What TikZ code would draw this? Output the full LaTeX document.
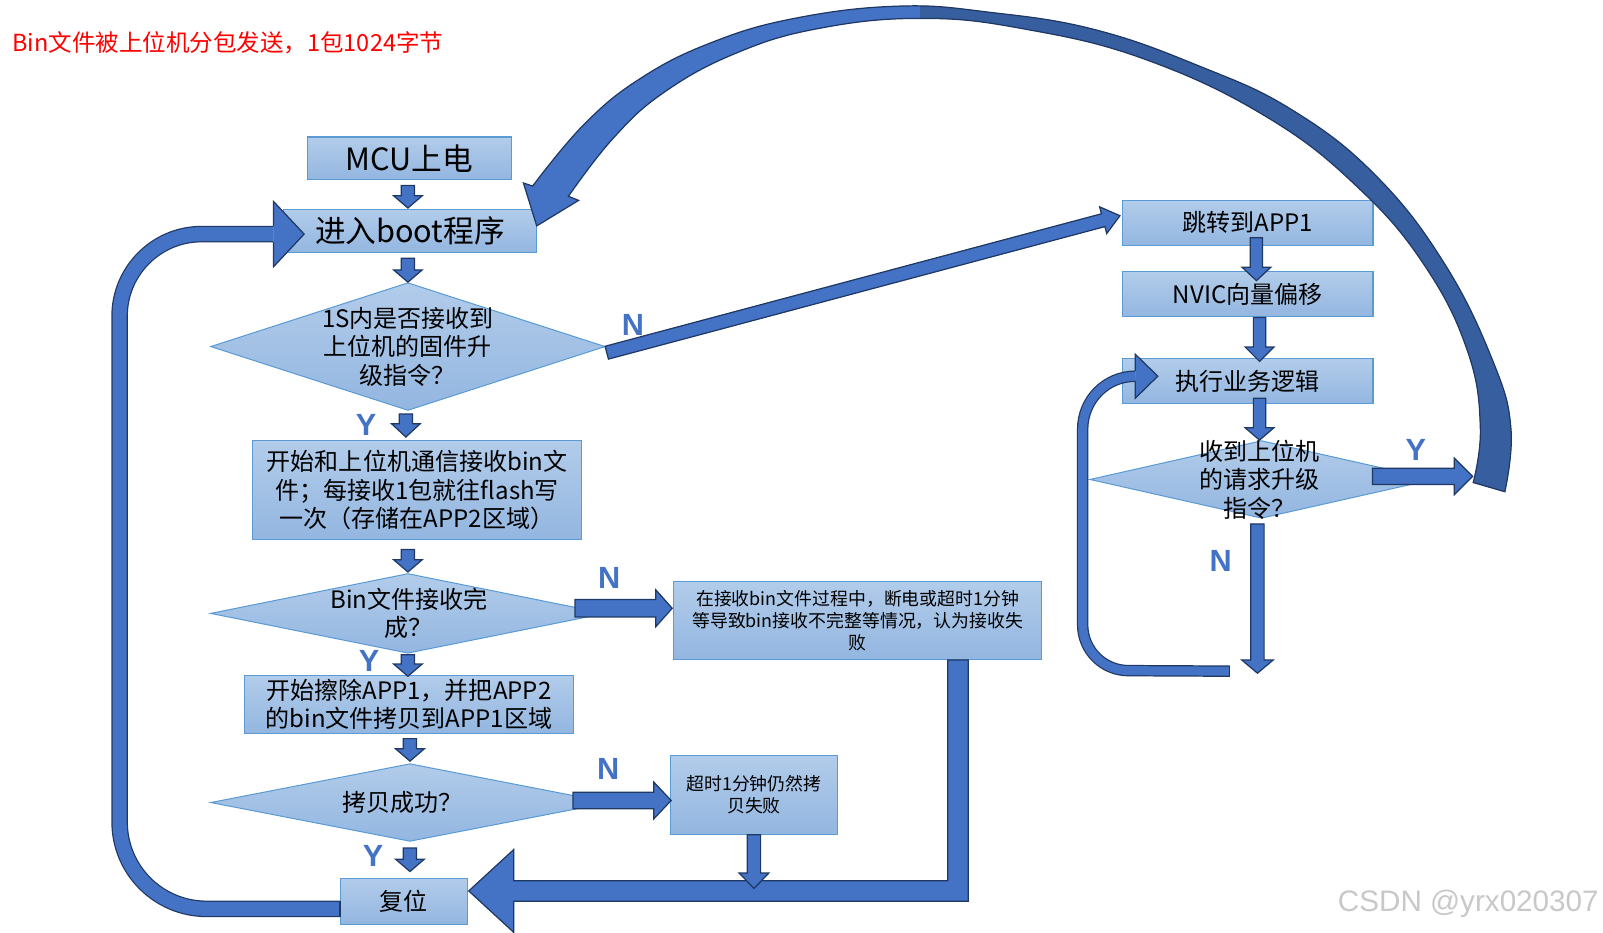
\documentclass[tikz,border=0pt]{standalone}
\usepackage{fontspec}
\setmainfont{Noto Sans CJK SC}
\newfontfamily\latinfont{Liberation Sans}
\usetikzlibrary{calc,shapes.geometric}

\definecolor{boxtop}{HTML}{B2CCEA}
\definecolor{boxbot}{HTML}{93B6E0}
\definecolor{boxline}{HTML}{5B9BD5}
\definecolor{arrowfill}{HTML}{4472C4}
\definecolor{arrowback}{HTML}{375F9F}
\definecolor{arrowline}{HTML}{1F3864}
\definecolor{tagblue}{HTML}{4472C4}
\definecolor{notered}{HTML}{FF0000}
\definecolor{markgray}{HTML}{C8C8C8}

\newcommand\fsBig{\fontsize{30}{34}\selectfont}
\newcommand\fsMid{\fontsize{23.5}{28}\selectfont}
\newcommand\fsSmall{\fontsize{17.5}{21.5}\selectfont}

\tikzset{
  box/.style={draw=boxline, line width=1pt, top color=boxtop, bottom color=boxbot,
    inner sep=0pt, align=center, text=black, font=\fsMid},
  decision/.style={diamond, draw=boxline, line width=1pt, top color=boxtop,
    bottom color=boxbot, inner sep=0pt},
  dtext/.style={align=center, inner sep=0pt, text=black, font=\fsMid},
  blockarrow/.style={fill=arrowfill, draw=arrowline, line width=1.2pt, line join=miter},
  tube/.style={draw=arrowline, line width=1.2pt, double=arrowfill, double distance=#1},
  tag/.style={text=tagblue, inner sep=0pt, font=\latinfont\bfseries\fontsize{30}{30}\selectfont},
}

% straight block arrow: from, to, shaft half width, head half width, head length
\newcommand\blkarrow[5]{%
  \path (#1) coordinate (ba-s) (#2) coordinate (ba-e);
  \path ($(ba-e)!#5!(ba-s)$) coordinate (ba-b);
  \draw[blockarrow] ($(ba-s)!#3!90:(ba-e)$) -- ($(ba-b)!#3!90:(ba-e)$)
    -- ($(ba-b)!#4!90:(ba-e)$) -- (ba-e) -- ($(ba-b)!#4!-90:(ba-e)$)
    -- ($(ba-b)!#3!-90:(ba-e)$) -- ($(ba-s)!#3!-90:(ba-e)$) -- cycle;
}
% arrow head for a curved shaft: base, tip, shaft half width, head half width
\newcommand\blkhead[4]{%
  \path (#1) coordinate (bh-b) (#2) coordinate (bh-e);
  \fill[arrowfill] ($(bh-b)!#3!90:(bh-e)$) -- ($(bh-b)!#4!90:(bh-e)$) -- (bh-e)
    -- ($(bh-b)!#4!-90:(bh-e)$) -- ($(bh-b)!#3!-90:(bh-e)$) -- cycle;
  \draw[arrowline, line width=1.2pt, line join=miter] ($(bh-b)!#3!90:(bh-e)$)
    -- ($(bh-b)!#4!90:(bh-e)$) -- (bh-e) -- ($(bh-b)!#4!-90:(bh-e)$)
    -- ($(bh-b)!#3!-90:(bh-e)$);
}

\begin{document}
\begin{tikzpicture}[x=1pt,y=-1pt]
\useasboundingbox (0,0) rectangle (1568,912);

\node[anchor=west, inner sep=0pt, text=notered, font=\fontsize{23}{23}\selectfont] (note) at (12,42)
  {Bin文件被上位机分包发送，1包1024字节};

% boot-loader column
\node[box, minimum width=199pt, minimum height=42pt, font=\fsBig] (mcu) at (400.5,155) {MCU上电};
\node[box, minimum width=248pt, minimum height=42pt, font=\fsBig] (boot) at (401,226) {进入boot程序};
\node[decision, minimum width=386pt, minimum height=125pt] (d1) at (399,339) {};
\node[box, minimum width=322pt, minimum height=97pt] (recv) at (408,479.5)
  {开始和上位机通信接收bin文\\件；每接收1包就往flash写\\一次（存储在APP2区域）};
\node[decision, minimum width=386pt, minimum height=78pt] (d2) at (399,600) {};
\node[box, minimum width=322pt, minimum height=56pt] (copy) at (400,689)
  {开始擦除APP1，并把APP2\\的bin文件拷贝到APP1区域};
\node[decision, minimum width=390pt, minimum height=76pt] (d3) at (401,785) {};
\node[box, minimum width=124pt, minimum height=45pt] (reset) at (395,881.5) {复位};
\node[box, minimum width=360pt, minimum height=76pt, font=\fsSmall] (fail1) at (839,607)
  {在接收bin文件过程中，断电或超时1分钟\\等导致bin接收不完整等情况，认为接收失\\败};
\node[box, minimum width=163pt, minimum height=77pt, font=\fsSmall] (fail2) at (737.5,777.5)
  {超时1分钟仍然拷\\贝失败};

% application column
\node[box, minimum width=245pt, minimum height=44pt] (jump) at (1220.5,218) {跳转到APP1};
\node[box, minimum width=245pt, minimum height=44pt] (nvic) at (1220.5,288) {NVIC向量偏移};
\node[box, minimum width=245pt, minimum height=44pt] (run) at (1220.5,373) {执行业务逻辑};
\node[decision, minimum width=336pt, minimum height=76pt] (d4) at (1234,469) {};

% big return arrow from the upgrade request back to the boot loader
\path[save path=\arcoutline] (512,179) -- plot[smooth, tension=0.7] coordinates {(521,182) (571,122)
  (626,77) (695,42) (777,18) (879,6) (968,12) (1071,29) (1174,65) (1263,107) (1345,171)
  (1413,258) (1461,355) (1478,420) (1472,481)}
  -- plot[smooth, tension=0.7] coordinates {(1441,472) (1448,418) (1436,345) (1395,262)
  (1330,185) (1240,115) (1120,58) (1000,28) (900,18) (800,28) (720,52) (650,90) (600,135)
  (556,192)} -- (566,196) -- (525,221) -- cycle;
\fill[arrowfill, use path=\arcoutline];
\begin{scope}
  \clip (900,-5) rectangle (1600,600);
  \fill[arrowback, use path=\arcoutline];
\end{scope}
\draw[arrowline, line width=1.2pt, line join=miter, use path=\arcoutline];

% straight arrows of the boot-loader column
\blkarrow{$(mcu.south)+(-1.5,5)$}{$(boot.north)+(-2,-1)$}{6.5pt}{14pt}{12pt}
\blkarrow{$(boot.south)+(-2,5)$}{d1.north}{6.5pt}{14pt}{12pt}
\blkarrow{$(d1.south)+(-2,3)$}{$(recv.north)+(-11,-3)$}{6.5pt}{14pt}{13pt}
\blkarrow{$(recv.south)+(-9,9)$}{$(d2.north)+(0,-1)$}{6.5pt}{14pt}{12pt}
\blkarrow{$(d2.south)+(0,1)$}{$(copy.north)+(-1,1)$}{6.5pt}{14pt}{12pt}
\blkarrow{$(copy.south)+(1,5)$}{$(d3.north)+(0,-2)$}{6.5pt}{14pt}{12pt}
\blkarrow{$(d3.south)+(0,6)$}{$(reset.north)+(6,-6)$}{6.5pt}{14pt}{12pt}

% failure branches
\blkarrow{$(d2.east)+(-30,-5)$}{$(fail1.west)+(-1,-12)$}{8.5pt}{18pt}{16pt}
\blkarrow{$(d3.east)+(-36,-2)$}{$(fail2.west)+(1,5.5)$}{8pt}{18pt}{17pt}

\coordinate (rb-tip) at ($(reset.east)+(1,-10)$);
\coordinate (rb-top) at ($(fail1.south)+(98,0)$);
\draw[blockarrow] ($(rb-top)+(-10,0)$) -- ($(rb-top)+(10,0)$) -- ($(rb-top|-rb-tip)+(10,10)$)
  -- ($(rb-tip)+(44,10)$) -- ($(rb-tip)+(44,40.5)$) -- (rb-tip) -- ($(rb-tip)+(44,-40.5)$)
  -- ($(rb-tip)+(44,-10)$) -- ($(rb-top|-rb-tip)+(-10,-10)$) -- cycle;
\blkarrow{fail2.south}{$(fail2.south|-rb-tip)+(0,-2.5)$}{6.5pt}{14.5pt}{15pt}

% reset loops back into the boot loader
\coordinate (ll-s) at ($(reset.west)+(0,7.5)$);
\coordinate (ll-b) at ($(boot.west)+(-9,3)$);
\draw[tube=13.8pt] (ll-s) -- (202,889) .. controls (155,889) and (117,851) .. (117,804)
  -- (117,309) .. controls (117,265) and (153,229) .. (197,229) -- (ll-b);
\draw[arrowline, line width=1.2pt] ($(ll-s)+(0,-7.5)$) -- ($(ll-s)+(0,7.5)$);
\blkhead{ll-b}{$(ll-b)+(30,0)$}{7.5pt}{32pt}

% no upgrade request: jump to the application
\blkarrow{$(d1.east)+(1,6)$}{$(jump.west)+(-2,-7)$}{6.5pt}{13.5pt}{17pt}

% application column arrows
\blkarrow{$(jump.south)+(8.5,-8)$}{$(nvic.north)+(8.5,9)$}{6pt}{14pt}{13pt}
\blkarrow{$(nvic.south)+(11.5,0)$}{$(run.north)+(11.5,3)$}{6pt}{14pt}{14pt}
\blkarrow{$(run.south)+(11.5,-6)$}{$(d4.north)+(-2,0)$}{6pt}{14pt}{12pt}
\blkarrow{$(d4.east)+(-60,-3)$}{$(d4.east)+(38,-3)$}{8pt}{18pt}{18pt}
\coordinate (n4end) at ($(d4.south)+(-4,151)$);
\blkarrow{$(d4.south)+(-4,5)$}{n4end}{6.5pt}{15.5pt}{13pt}

\coordinate (rl-s) at ($(n4end)+(-27,-2)$);
\coordinate (rl-b) at ($(run.west)+(13,-5)$);
\draw[tube=8.8pt] (rl-s) -- (1104,656) .. controls (1079,656) and (1059,636) .. (1059,611)
  -- (1059,420) .. controls (1059,391) and (1082,368) .. (rl-b);
\draw[arrowline, line width=1.2pt] ($(rl-s)+(0,-5)$) -- ($(rl-s)+(0,5)$);
\blkhead{rl-b}{$(rl-b)+(22,0)$}{5pt}{21.5pt}

% decision texts
\node[dtext] at (d1) {1S内是否接收到\\上位机的固件升\\级指令？};
\node[dtext] at ($(d2)+(1,0)$) {Bin文件接收完\\成？};
\node[dtext] at ($(d3)+(-7,0)$) {拷贝成功？};
\node[dtext] at ($(d4)+(-2,0)$) {收到上位机\\的请求升级\\指令？};

% branch tags
\node[tag] at (619,318) {N};
\node[tag] at (358,416) {Y};
\node[tag] at (596,565) {N};
\node[tag] at (361,647) {Y};
\node[tag] at (595,752) {N};
\node[tag] at (365,837) {Y};
\node[tag] at (1385,440) {Y};
\node[tag] at (1194,549) {N};

\node[anchor=east, inner sep=0pt, text=markgray, font=\latinfont\fontsize{29}{29}\selectfont]
  at (1564,884) {CSDN @yrx020307};
\end{tikzpicture}
\end{document}
